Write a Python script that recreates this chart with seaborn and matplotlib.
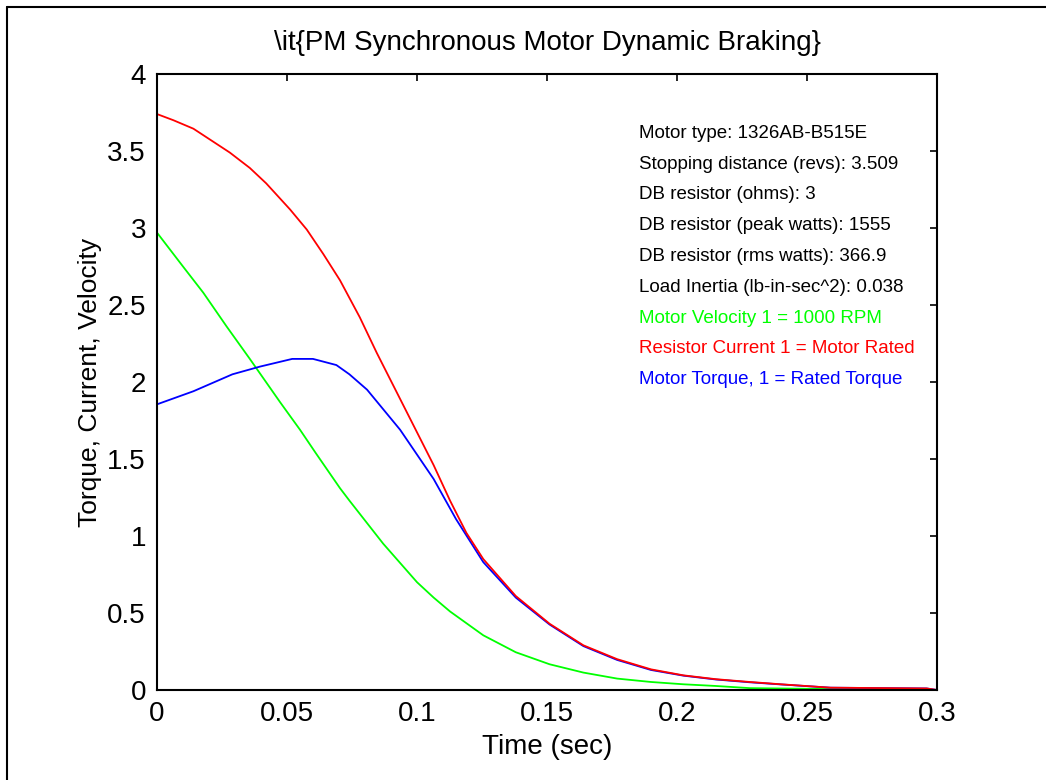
import matplotlib
matplotlib.use("Agg")
import matplotlib.pyplot as plt
from matplotlib.lines import Line2D
import seaborn as sns
import pandas as pd

# readings taken off the original plot; each series starts at zero at t = 0
vel_t = [0.0, 0.0, 0.010, 0.0178, 0.0268, 0.0357, 0.0473, 0.052, 0.055, 0.061,
         0.0704, 0.074, 0.087, 0.100, 0.1064, 0.1127, 0.1255, 0.138, 0.151, 0.164,
         0.177, 0.190, 0.2025, 0.215, 0.228, 0.264, 0.300]
velocity = [0.0, 2.97, 2.75, 2.58, 2.36, 2.15, 1.87, 1.76, 1.69, 1.54,
            1.31, 1.23, 0.95, 0.70, 0.60, 0.51, 0.355, 0.245, 0.167, 0.113,
            0.074, 0.052, 0.037, 0.026, 0.012, 0.005, 0.0]

cur_t = [0.0, 0.0, 0.0063, 0.014, 0.028, 0.0357, 0.042, 0.0512, 0.0576, 0.064,
         0.0704, 0.078, 0.0845, 0.0896, 0.092, 0.1064, 0.1127, 0.119, 0.1255,
         0.138, 0.151, 0.164, 0.177, 0.190, 0.2025, 0.215, 0.228, 0.240,
         0.259, 0.296, 0.300]
current = [0.0, 3.74, 3.70, 3.645, 3.49, 3.39, 3.29, 3.12, 2.99, 2.83,
           2.66, 2.42, 2.19, 2.02, 1.94, 1.46, 1.23, 1.02, 0.85,
           0.61, 0.43, 0.29, 0.20, 0.134, 0.095, 0.070, 0.052, 0.037,
           0.015, 0.010, 0.0]

trq_t = [0.0, 0.0, 0.014, 0.029, 0.0396, 0.052, 0.060, 0.069, 0.074, 0.0808,
         0.0935, 0.1064, 0.115, 0.1255, 0.138, 0.151, 0.164, 0.177, 0.190,
         0.2025, 0.215, 0.228, 0.240, 0.259, 0.296, 0.300]
torque = [0.0, 1.855, 1.94, 2.05, 2.10, 2.15, 2.15, 2.11, 2.05, 1.95,
          1.69, 1.37, 1.11, 0.83, 0.60, 0.425, 0.285, 0.195, 0.13,
          0.093, 0.068, 0.050, 0.036, 0.015, 0.010, 0.0]

info_lines = [
    "Motor type: 1326AB-B515E",
    "Stopping distance (revs): 3.509",
    "DB resistor (ohms): 3",
    "DB resistor (peak watts): 1555",
    "DB resistor (rms watts): 366.9",
    "Load Inertia (lb-in-sec^2): 0.038",
    "Motor Velocity 1 = 1000 RPM",
    "Resistor Current 1 = Motor Rated",
    "Motor Torque, 1 = Rated Torque",
]
info_colors = ["black"] * 6 + ["#00ff00", "#ff0000", "#0000ff"]

x_ticks = [0, 0.05, 0.1, 0.15, 0.2, 0.25, 0.3]
x_tick_labels = ["0", "0.05", "0.1", "0.15", "0.2", "0.25", "0.3"]
y_ticks = [0, 0.5, 1, 1.5, 2, 2.5, 3, 3.5, 4]
y_tick_labels = ["0", "0.5", "1", "1.5", "2", "2.5", "3", "3.5", "4"]

sns.set_theme(style="white")
plt.rcParams['font.family'] = ['Liberation Sans', 'DejaVu Sans']
plt.rcParams['text.color'] = 'black'
plt.rcParams['axes.labelcolor'] = 'black'

df_vel = pd.DataFrame({"t": vel_t, "v": velocity})
df_cur = pd.DataFrame({"t": cur_t, "v": current})
df_trq = pd.DataFrame({"t": trq_t, "v": torque})

fig = plt.figure(figsize=(10.46, 7.8), dpi=100)
ax = fig.add_axes([0.1501, 0.1154, 0.7457, 0.7897])

sns.lineplot(data=df_vel, x="t", y="v", color="#00ff00", lw=1.3, estimator=None, sort=False, ax=ax)
sns.lineplot(data=df_trq, x="t", y="v", color="#0000ff", lw=1.3, estimator=None, sort=False, ax=ax)
sns.lineplot(data=df_cur, x="t", y="v", color="#ff0000", lw=1.3, estimator=None, sort=False, ax=ax)

ax.set_xlim(0, 0.3)
ax.set_ylim(0, 4)
ax.set_xticks(x_ticks)
ax.set_xticklabels(x_tick_labels)
ax.set_yticks(y_ticks)
ax.set_yticklabels(y_tick_labels)
ax.tick_params(direction="in", length=5, width=1.2, top=True, right=True,
               labelsize=20, pad=8, colors="black")
for s in ax.spines.values():
    s.set_visible(True)
    s.set_color("black")
    s.set_linewidth(1.5)

ax.set_title(r"\it{PM Synchronous Motor Dynamic Braking}", fontsize=20, pad=17)
ax.set_xlabel("Time (sec)", fontsize=20, labelpad=5)
ax.set_ylabel("Torque, Current, Velocity", fontsize=19, labelpad=4)

for i, (txt, col) in enumerate(zip(info_lines, info_colors)):
    ax.text(0.1855, 3.615 - 0.2 * i, txt, color=col, fontsize=13.5,
            ha="left", va="center")

# frame lines at top and left of the figure
fig.add_artist(Line2D([7 / 1046, 1.0], [1 - 7 / 780, 1 - 7 / 780], color="black", lw=1.5))
fig.add_artist(Line2D([7 / 1046, 7 / 1046], [0.0, 1 - 7 / 780], color="black", lw=1.5))

fig.savefig("out.png", dpi=100, facecolor="white")
